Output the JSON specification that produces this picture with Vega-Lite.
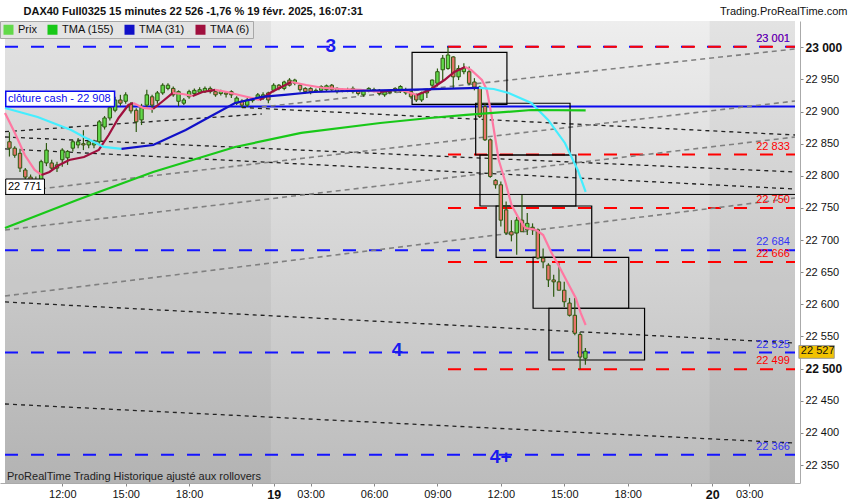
{
  "$schema": "https://vega.github.io/schema/vega-lite/v6.json",
  "width": 800,
  "height": 462,
  "autosize": "none",
  "padding": {"left": 0, "top": 21, "right": 50, "bottom": 17},
  "background": "#ffffff",
  "config": {
    "view": {"stroke": null},
    "font": "Liberation Sans",
    "axis": {"labelOverlap": false, "labelFlush": false, "labelBound": false, "labelSeparation": 0},
    "locale": {"number": {"decimal": ",", "thousands": " ", "grouping": [3], "currency": ["", " €"]}}
  },
  "datasets": {
    "candles": [
      {"i":0,"o":22853,"h":22868,"l":22830,"c":22843,"k":"Prix baisse"},
      {"i":1,"o":22843,"h":22846,"l":22828,"c":22832,"k":"Prix baisse"},
      {"i":2,"o":22835,"h":22842,"l":22806,"c":22812,"k":"Prix baisse"},
      {"i":3,"o":22809,"h":22812,"l":22792,"c":22798,"k":"Prix baisse"},
      {"i":4,"o":22798,"h":22802,"l":22778,"c":22787,"k":"Prix baisse"},
      {"i":5,"o":22787,"h":22799,"l":22771,"c":22784,"k":"Prix baisse"},
      {"i":6,"o":22790,"h":22825,"l":22786,"c":22822,"k":"Prix"},
      {"i":7,"o":22820,"h":22851,"l":22815,"c":22840,"k":"Prix"},
      {"i":8,"o":22820,"h":22825,"l":22808,"c":22812,"k":"Prix baisse"},
      {"i":9,"o":22817,"h":22822,"l":22806,"c":22812,"k":"Prix baisse"},
      {"i":10,"o":22825,"h":22843,"l":22814,"c":22840,"k":"Prix"},
      {"i":11,"o":22828,"h":22840,"l":22817,"c":22838,"k":"Prix"},
      {"i":12,"o":22843,"h":22856,"l":22838,"c":22853,"k":"Prix"},
      {"i":13,"o":22848,"h":22859,"l":22843,"c":22853,"k":"Prix"},
      {"i":14,"o":22850,"h":22871,"l":22840,"c":22848,"k":"Prix baisse"},
      {"i":15,"o":22848,"h":22858,"l":22843,"c":22853,"k":"Prix"},
      {"i":16,"o":22848,"h":22856,"l":22843,"c":22851,"k":"Prix"},
      {"i":17,"o":22853,"h":22887,"l":22850,"c":22884,"k":"Prix"},
      {"i":18,"o":22876,"h":22893,"l":22872,"c":22890,"k":"Prix"},
      {"i":19,"o":22890,"h":22909,"l":22886,"c":22906,"k":"Prix"},
      {"i":20,"o":22902,"h":22923,"l":22899,"c":22918,"k":"Prix"},
      {"i":21,"o":22918,"h":22926,"l":22909,"c":22913,"k":"Prix baisse"},
      {"i":22,"o":22916,"h":22930,"l":22912,"c":22926,"k":"Prix"},
      {"i":23,"o":22911,"h":22915,"l":22897,"c":22901,"k":"Prix baisse"},
      {"i":24,"o":22902,"h":22905,"l":22868,"c":22884,"k":"Prix baisse"},
      {"i":25,"o":22887,"h":22912,"l":22879,"c":22906,"k":"Prix"},
      {"i":26,"o":22910,"h":22934,"l":22906,"c":22926,"k":"Prix"},
      {"i":27,"o":22923,"h":22926,"l":22898,"c":22910,"k":"Prix baisse"},
      {"i":28,"o":22917,"h":22932,"l":22912,"c":22929,"k":"Prix"},
      {"i":29,"o":22929,"h":22944,"l":22926,"c":22941,"k":"Prix"},
      {"i":30,"o":22936,"h":22944,"l":22933,"c":22941,"k":"Prix"},
      {"i":31,"o":22936,"h":22939,"l":22923,"c":22926,"k":"Prix baisse"},
      {"i":32,"o":22916,"h":22933,"l":22908,"c":22931,"k":"Prix"},
      {"i":33,"o":22913,"h":22921,"l":22910,"c":22918,"k":"Prix"},
      {"i":34,"o":22923,"h":22934,"l":22920,"c":22931,"k":"Prix"},
      {"i":35,"o":22928,"h":22936,"l":22925,"c":22933,"k":"Prix"},
      {"i":36,"o":22930,"h":22938,"l":22928,"c":22934,"k":"Prix"},
      {"i":37,"o":22931,"h":22939,"l":22929,"c":22936,"k":"Prix"},
      {"i":38,"o":22936,"h":22939,"l":22928,"c":22931,"k":"Prix baisse"},
      {"i":39,"o":22931,"h":22933,"l":22923,"c":22926,"k":"Prix baisse"},
      {"i":40,"o":22928,"h":22934,"l":22925,"c":22931,"k":"Prix"},
      {"i":41,"o":22929,"h":22932,"l":22922,"c":22927,"k":"Prix baisse"},
      {"i":42,"o":22931,"h":22933,"l":22921,"c":22926,"k":"Prix baisse"},
      {"i":43,"o":22913,"h":22924,"l":22910,"c":22921,"k":"Prix"},
      {"i":44,"o":22916,"h":22919,"l":22906,"c":22910,"k":"Prix baisse"},
      {"i":45,"o":22910,"h":22921,"l":22907,"c":22918,"k":"Prix"},
      {"i":46,"o":22917,"h":22922,"l":22914,"c":22920,"k":"Prix"},
      {"i":47,"o":22921,"h":22929,"l":22918,"c":22926,"k":"Prix"},
      {"i":48,"o":22921,"h":22930,"l":22918,"c":22926,"k":"Prix"},
      {"i":49,"o":22929,"h":22931,"l":22913,"c":22918,"k":"Prix baisse"},
      {"i":50,"o":22933,"h":22944,"l":22930,"c":22941,"k":"Prix"},
      {"i":51,"o":22941,"h":22943,"l":22933,"c":22936,"k":"Prix baisse"},
      {"i":52,"o":22936,"h":22948,"l":22933,"c":22946,"k":"Prix"},
      {"i":53,"o":22949,"h":22952,"l":22939,"c":22941,"k":"Prix baisse"},
      {"i":54,"o":22944,"h":22951,"l":22941,"c":22949,"k":"Prix"},
      {"i":55,"o":22941,"h":22943,"l":22931,"c":22934,"k":"Prix baisse"},
      {"i":56,"o":22936,"h":22938,"l":22928,"c":22931,"k":"Prix baisse"},
      {"i":57,"o":22936,"h":22938,"l":22927,"c":22931,"k":"Prix baisse"},
      {"i":58,"o":22932,"h":22936,"l":22929,"c":22933,"k":"Prix"},
      {"i":59,"o":22933,"h":22941,"l":22930,"c":22939,"k":"Prix"},
      {"i":60,"o":22934,"h":22942,"l":22931,"c":22940,"k":"Prix"},
      {"i":61,"o":22941,"h":22943,"l":22931,"c":22934,"k":"Prix baisse"},
      {"i":62,"o":22931,"h":22938,"l":22928,"c":22936,"k":"Prix"},
      {"i":63,"o":22933,"h":22936,"l":22930,"c":22934,"k":"Prix"},
      {"i":64,"o":22934,"h":22937,"l":22930,"c":22933,"k":"Prix baisse"},
      {"i":65,"o":22931,"h":22939,"l":22928,"c":22936,"k":"Prix"},
      {"i":66,"o":22932,"h":22934,"l":22925,"c":22928,"k":"Prix baisse"},
      {"i":67,"o":22926,"h":22934,"l":22923,"c":22932,"k":"Prix"},
      {"i":68,"o":22932,"h":22938,"l":22930,"c":22936,"k":"Prix"},
      {"i":69,"o":22934,"h":22937,"l":22930,"c":22933,"k":"Prix baisse"},
      {"i":70,"o":22933,"h":22935,"l":22925,"c":22928,"k":"Prix baisse"},
      {"i":71,"o":22926,"h":22933,"l":22923,"c":22931,"k":"Prix"},
      {"i":72,"o":22931,"h":22934,"l":22927,"c":22930,"k":"Prix baisse"},
      {"i":73,"o":22936,"h":22938,"l":22929,"c":22932,"k":"Prix baisse"},
      {"i":74,"o":22932,"h":22941,"l":22929,"c":22939,"k":"Prix"},
      {"i":75,"o":22929,"h":22937,"l":22926,"c":22934,"k":"Prix"},
      {"i":76,"o":22931,"h":22933,"l":22920,"c":22923,"k":"Prix baisse"},
      {"i":77,"o":22926,"h":22928,"l":22915,"c":22918,"k":"Prix baisse"},
      {"i":78,"o":22918,"h":22931,"l":22915,"c":22929,"k":"Prix"},
      {"i":79,"o":22929,"h":22935,"l":22921,"c":22934,"k":"Prix"},
      {"i":80,"o":22941,"h":22950,"l":22936,"c":22949,"k":"Prix"},
      {"i":81,"o":22944,"h":22967,"l":22939,"c":22962,"k":"Prix"},
      {"i":82,"o":22965,"h":22988,"l":22949,"c":22983,"k":"Prix"},
      {"i":83,"o":22967,"h":23001,"l":22965,"c":22988,"k":"Prix"},
      {"i":84,"o":22985,"h":22986,"l":22936,"c":22954,"k":"Prix baisse"},
      {"i":85,"o":22954,"h":22972,"l":22949,"c":22967,"k":"Prix"},
      {"i":86,"o":22962,"h":22975,"l":22958,"c":22968,"k":"Prix"},
      {"i":87,"o":22962,"h":22970,"l":22941,"c":22944,"k":"Prix baisse"},
      {"i":88,"o":22946,"h":22952,"l":22933,"c":22938,"k":"Prix baisse"},
      {"i":89,"o":22938,"h":22940,"l":22890,"c":22892,"k":"Prix baisse"},
      {"i":90,"o":22908,"h":22913,"l":22854,"c":22856,"k":"Prix baisse"},
      {"i":91,"o":22856,"h":22858,"l":22797,"c":22799,"k":"Prix baisse"},
      {"i":92,"o":22793,"h":22795,"l":22780,"c":22786,"k":"Prix baisse"},
      {"i":93,"o":22786,"h":22791,"l":22721,"c":22731,"k":"Prix baisse"},
      {"i":94,"o":22747,"h":22760,"l":22708,"c":22711,"k":"Prix baisse"},
      {"i":95,"o":22713,"h":22731,"l":22698,"c":22708,"k":"Prix baisse"},
      {"i":96,"o":22711,"h":22736,"l":22677,"c":22731,"k":"Prix"},
      {"i":97,"o":22731,"h":22770,"l":22713,"c":22713,"k":"Prix baisse"},
      {"i":98,"o":22716,"h":22742,"l":22708,"c":22726,"k":"Prix"},
      {"i":99,"o":22720,"h":22726,"l":22708,"c":22716,"k":"Prix baisse"},
      {"i":100,"o":22716,"h":22718,"l":22670,"c":22672,"k":"Prix baisse"},
      {"i":101,"o":22672,"h":22687,"l":22656,"c":22666,"k":"Prix baisse"},
      {"i":102,"o":22661,"h":22664,"l":22627,"c":22638,"k":"Prix baisse"},
      {"i":103,"o":22638,"h":22646,"l":22612,"c":22635,"k":"Prix baisse"},
      {"i":104,"o":22635,"h":22664,"l":22622,"c":22622,"k":"Prix baisse"},
      {"i":105,"o":22622,"h":22635,"l":22596,"c":22604,"k":"Prix baisse"},
      {"i":106,"o":22602,"h":22610,"l":22581,"c":22583,"k":"Prix baisse"},
      {"i":107,"o":22583,"h":22610,"l":22552,"c":22555,"k":"Prix baisse"},
      {"i":108,"o":22553,"h":22557,"l":22499,"c":22518,"k":"Prix baisse"},
      {"i":109,"o":22516,"h":22532,"l":22506,"c":22527,"k":"Prix"}
    ],
    "tma": [
      {"s":1,"k":"TMA (6) baisse","i":-0.84,"v":22897.8},
      {"s":1,"k":"TMA (6) baisse","i":1.03,"v":22866.7},
      {"s":1,"k":"TMA (6) baisse","i":2.9,"v":22832.4},
      {"s":1,"k":"TMA (6) baisse","i":4.77,"v":22809.1},
      {"s":1,"k":"TMA (6) baisse","i":6.07,"v":22801.3},
      {"s":2,"k":"TMA (6)","i":6.07,"v":22801.3},
      {"s":2,"k":"TMA (6)","i":7.57,"v":22806.0},
      {"s":2,"k":"TMA (6)","i":9.44,"v":22816.9},
      {"s":2,"k":"TMA (6)","i":11.31,"v":22824.6},
      {"s":2,"k":"TMA (6)","i":14.11,"v":22829.3},
      {"s":2,"k":"TMA (6)","i":16.91,"v":22840.2},
      {"s":2,"k":"TMA (6)","i":18.78,"v":22863.5},
      {"s":2,"k":"TMA (6)","i":20.65,"v":22890.0},
      {"s":2,"k":"TMA (6)","i":22.52,"v":22910.2},
      {"s":2,"k":"TMA (6)","i":23.45,"v":22913.3},
      {"s":3,"k":"TMA (6) baisse","i":23.45,"v":22913.3},
      {"s":3,"k":"TMA (6) baisse","i":25.32,"v":22905.6},
      {"s":3,"k":"TMA (6) baisse","i":27.19,"v":22904.0},
      {"s":4,"k":"TMA (6)","i":27.19,"v":22904.0},
      {"s":4,"k":"TMA (6)","i":29.06,"v":22916.4},
      {"s":4,"k":"TMA (6)","i":30.93,"v":22928.9},
      {"s":5,"k":"TMA (6) baisse","i":30.93,"v":22928.9},
      {"s":5,"k":"TMA (6) baisse","i":32.8,"v":22927.3},
      {"s":5,"k":"TMA (6) baisse","i":34.67,"v":22924.2},
      {"s":6,"k":"TMA (6)","i":34.67,"v":22924.2},
      {"s":6,"k":"TMA (6)","i":36.53,"v":22930.4},
      {"s":6,"k":"TMA (6)","i":38.96,"v":22933.6},
      {"s":7,"k":"TMA (6) baisse","i":38.96,"v":22933.6},
      {"s":7,"k":"TMA (6) baisse","i":41.2,"v":22930.4},
      {"s":7,"k":"TMA (6) baisse","i":43.45,"v":22925.8},
      {"s":7,"k":"TMA (6) baisse","i":45.88,"v":22921.1},
      {"s":7,"k":"TMA (6) baisse","i":47.37,"v":22918.0},
      {"s":8,"k":"TMA (6)","i":47.37,"v":22918.0},
      {"s":8,"k":"TMA (6)","i":49.62,"v":22930.4},
      {"s":8,"k":"TMA (6)","i":53.35,"v":22946.0},
      {"s":9,"k":"TMA (6) baisse","i":53.35,"v":22946.0},
      {"s":9,"k":"TMA (6) baisse","i":56.16,"v":22941.3},
      {"s":9,"k":"TMA (6) baisse","i":59.52,"v":22936.7},
      {"s":9,"k":"TMA (6) baisse","i":62.7,"v":22935.1},
      {"s":9,"k":"TMA (6) baisse","i":66.44,"v":22933.6},
      {"s":9,"k":"TMA (6) baisse","i":70.18,"v":22930.4},
      {"s":10,"k":"TMA (6)","i":70.18,"v":22930.4},
      {"s":10,"k":"TMA (6)","i":72.98,"v":22933.6},
      {"s":11,"k":"TMA (6) baisse","i":72.98,"v":22933.6},
      {"s":11,"k":"TMA (6) baisse","i":74.85,"v":22932.0},
      {"s":11,"k":"TMA (6) baisse","i":77.09,"v":22925.8},
      {"s":12,"k":"TMA (6)","i":77.09,"v":22925.8},
      {"s":12,"k":"TMA (6)","i":79.52,"v":22933.6},
      {"s":12,"k":"TMA (6)","i":82.32,"v":22949.1},
      {"s":12,"k":"TMA (6)","i":84.19,"v":22961.6},
      {"s":12,"k":"TMA (6)","i":86.25,"v":22969.3},
      {"s":13,"k":"TMA (6) baisse","i":86.25,"v":22969.3},
      {"s":13,"k":"TMA (6) baisse","i":87.37,"v":22964.7},
      {"s":13,"k":"TMA (6) baisse","i":89.42,"v":22949.1},
      {"s":13,"k":"TMA (6) baisse","i":90.36,"v":22933.6},
      {"s":13,"k":"TMA (6) baisse","i":91.29,"v":22891.5},
      {"s":13,"k":"TMA (6) baisse","i":92.6,"v":22824.6},
      {"s":13,"k":"TMA (6) baisse","i":93.91,"v":22788.9},
      {"s":13,"k":"TMA (6) baisse","i":95.03,"v":22754.6},
      {"s":13,"k":"TMA (6) baisse","i":96.34,"v":22734.4},
      {"s":13,"k":"TMA (6) baisse","i":97.65,"v":22718.8},
      {"s":13,"k":"TMA (6) baisse","i":99.7,"v":22715.7},
      {"s":13,"k":"TMA (6) baisse","i":101.01,"v":22707.9},
      {"s":13,"k":"TMA (6) baisse","i":102.51,"v":22681.5},
      {"s":13,"k":"TMA (6) baisse","i":104.19,"v":22656.6},
      {"s":13,"k":"TMA (6) baisse","i":105.68,"v":22633.3},
      {"s":13,"k":"TMA (6) baisse","i":107.18,"v":22609.9},
      {"s":13,"k":"TMA (6) baisse","i":108.11,"v":22586.6},
      {"s":13,"k":"TMA (6) baisse","i":109.05,"v":22567.9},
      {"s":21,"k":"TMA (31) baisse","i":-0.84,"v":22905.6},
      {"s":21,"k":"TMA (31) baisse","i":5.33,"v":22891.5},
      {"s":21,"k":"TMA (31) baisse","i":11.68,"v":22871.3},
      {"s":21,"k":"TMA (31) baisse","i":14.11,"v":22860.4},
      {"s":21,"k":"TMA (31) baisse","i":17.85,"v":22844.9},
      {"s":21,"k":"TMA (31) baisse","i":21.21,"v":22841.8},
      {"s":22,"k":"TMA (31)","i":21.21,"v":22841.8},
      {"s":22,"k":"TMA (31)","i":27.19,"v":22848.0},
      {"s":22,"k":"TMA (31)","i":33.36,"v":22871.3},
      {"s":22,"k":"TMA (31)","i":37.84,"v":22891.5},
      {"s":22,"k":"TMA (31)","i":42.7,"v":22913.3},
      {"s":22,"k":"TMA (31)","i":47.75,"v":22922.7},
      {"s":22,"k":"TMA (31)","i":52.05,"v":22925.8},
      {"s":22,"k":"TMA (31)","i":57.65,"v":22930.4},
      {"s":22,"k":"TMA (31)","i":64.01,"v":22932.0},
      {"s":22,"k":"TMA (31)","i":70.18,"v":22932.8},
      {"s":22,"k":"TMA (31)","i":74.85,"v":22933.6},
      {"s":22,"k":"TMA (31)","i":88.86,"v":22936.7},
      {"s":23,"k":"TMA (31) baisse","i":88.86,"v":22936.7},
      {"s":23,"k":"TMA (31) baisse","i":91.66,"v":22935.1},
      {"s":23,"k":"TMA (31) baisse","i":94.47,"v":22928.9},
      {"s":23,"k":"TMA (31) baisse","i":98.77,"v":22913.3},
      {"s":23,"k":"TMA (31) baisse","i":101.95,"v":22886.9},
      {"s":23,"k":"TMA (31) baisse","i":105.12,"v":22851.1},
      {"s":23,"k":"TMA (31) baisse","i":107.55,"v":22809.1},
      {"s":23,"k":"TMA (31) baisse","i":109.05,"v":22774.9},
      {"s":31,"k":"TMA (155)","i":-0.84,"v":22718.8},
      {"s":31,"k":"TMA (155)","i":12.8,"v":22762.4},
      {"s":31,"k":"TMA (155)","i":27.19,"v":22806.0},
      {"s":31,"k":"TMA (155)","i":42.7,"v":22844.9},
      {"s":31,"k":"TMA (155)","i":55.22,"v":22866.7},
      {"s":31,"k":"TMA (155)","i":70.18,"v":22882.2},
      {"s":31,"k":"TMA (155)","i":79.52,"v":22890.0},
      {"s":31,"k":"TMA (155)","i":86.43,"v":22894.7},
      {"s":31,"k":"TMA (155)","i":98.77,"v":22902.4},
      {"s":31,"k":"TMA (155)","i":109.05,"v":22901.7}
    ],
    "trendBlack": [
      {"id":"b","i":44.0,"p":22906.3},{"id":"b","i":148.67,"p":22863.5},
      {"id":"c","i":-0.84,"p":22860.4},{"id":"c","i":148.67,"p":22806.0},
      {"id":"d","i":-0.84,"p":22841.8},{"id":"d","i":148.67,"p":22779.5},
      {"id":"g","i":-0.84,"p":22603.7},{"id":"g","i":148.67,"p":22539.9},
      {"id":"i","i":-0.84,"p":22444.9},{"id":"i","i":148.67,"p":22384.2},
      {"id":"j","i":-0.84,"p":22868.7},{"id":"j","i":47.75,"p":22896.2}
    ],
    "trendGray": [
      {"id":"a","i":47.75,"p":22907.1},{"id":"a","i":148.67,"p":22997.4},
      {"id":"e","i":-0.84,"p":22773.3},{"id":"e","i":148.67,"p":22916.4},
      {"id":"h","i":-0.84,"p":22715.7},{"id":"h","i":148.67,"p":22860.4},
      {"id":"f","i":-0.84,"p":22613.0},{"id":"f","i":148.67,"p":22765.5}
    ],
    "boxes": [
      {"a":76.2,"b":94.15,"lo":22911.3,"hi":22992.2},
      {"a":88.24,"b":106.1,"lo":22832.4,"hi":22912.9},
      {"a":89.05,"b":107.2,"lo":22753.0,"hi":22832.4},
      {"a":92.1,"b":110.2,"lo":22673.2,"hi":22753.0},
      {"a":99.1,"b":117.2,"lo":22593.9,"hi":22673.2},
      {"a":102.1,"b":120.2,"lo":22513.4,"hi":22593.9}
    ],
    "blueLevels": [{"p":23001},{"p":22684},{"p":22525},{"p":22366}],
    "redLevels": [{"p":23001},{"p":22833},{"p":22750},{"p":22666},{"p":22499}],
    "days": [{"from":-0.84,"to":49.5},{"from":132.5,"to":148.67}],
    "notes": [{"i":60.8,"p":23002,"t":"3"},{"i":73.35,"p":22529,"t":"4"},{"i":92.97,"p":22362.5,"t":"4+"}]
  },
  "layer": [
    {
      "data": {"values": [{}]},
      "mark": {"type": "rect", "fill": {"gradient": "linear", "x1": 0, "y1": 0, "x2": 0, "y2": 1, "stops": [{"offset": 0, "color": "#eeeeee"}, {"offset": 1, "color": "#bcbcbc"}]}},
      "encoding": {
        "x": {"datum": -0.84, "type": "quantitative",
          "scale": {"domain": [-0.84, 148.67], "nice": false, "zero": false},
          "axis": {
            "orient": "bottom",
            "values": [10, 22, 34, 46, 50, 57, 69, 81, 93, 105, 117, 129, 133, 140],
            "tickCount": 30,
            "labelExpr": "datum.value == 10 ? '12:00' : datum.value == 22 ? '15:00' : datum.value == 34 ? '18:00' : datum.value == 50 ? '19' : datum.value == 57 ? '03:00' : datum.value == 69 ? '06:00' : datum.value == 81 ? '09:00' : datum.value == 93 ? '12:00' : datum.value == 105 ? '15:00' : datum.value == 117 ? '18:00' : datum.value == 133 ? '20' : datum.value == 140 ? '03:00' : ''",
            "labelFontSize": {"condition": {"test": "datum.value == 50 || datum.value == 133", "value": 12.5}, "value": 11},
            "labelFontWeight": {"condition": {"test": "datum.value == 50 || datum.value == 133", "value": "bold"}, "value": "normal"},
            "labelColor": "#111111", "labelPadding": 2, "labelFlush": false, "labelOverlap": false,
            "tickSize": 3, "tickColor": "#888888", "domainColor": "#aaaaaa", "grid": false,
            "title": "DAX40 Full0325 15 minutes 22 526 -1,76 % 19 févr. 2025, 16:07:31",
            "titleX": 23, "titleY": -472, "titleAlign": "left", "titleAnchor": "start", "titleBaseline": "middle",
            "titleFontSize": 11, "titleFontWeight": "bold", "titleColor": "#111111", "titleAngle": 0
          }
        },
        "x2": {"datum": 148.67},
        "y": {"datum": 22322, "type": "quantitative",
          "scale": {"domain": [22322, 23040.9], "nice": false, "zero": false},
          "axis": {
            "orient": "right",
            "values": [22350, 22400, 22450, 22500, 22550, 22600, 22650, 22700, 22750, 22800, 22850, 22900, 22950, 23000],
            "tickCount": 30,
            "labelExpr": "replace(format(datum.value, ',d'), ',', ' ')",
            "labelFontSize": {"condition": {"test": "datum.value == 23000 || datum.value == 22500", "value": 12}, "value": 11},
            "labelFontWeight": {"condition": {"test": "datum.value == 23000 || datum.value == 22500", "value": "bold"}, "value": "normal"},
            "labelColor": "#111111", "labelPadding": 2, "labelFlush": false, "labelOverlap": false,
            "tickSize": 3, "tickColor": "#888888", "domainColor": "#aaaaaa", "grid": false,
            "title": "Trading.ProRealTime.com", "titleAngle": 0, "titleX": 47, "titleY": -10,
            "titleAlign": "right", "titleBaseline": "middle", "titleFontSize": 11, "titleFontWeight": "normal", "titleColor": "#111111"
          }
        },
        "y2": {"datum": 23040.9}
      }
    },
    {
      "data": {"name": "days"},
      "mark": {"type": "rect", "fill": "#000000", "opacity": 0.045},
      "encoding": {
        "x": {"field": "from", "type": "quantitative"},
        "x2": {"field": "to"},
        "y": {"datum": 22322, "type": "quantitative"},
        "y2": {"datum": 23040.9}
      }
    },
    {
      "data": {"name": "blueLevels"},
      "mark": {"type": "rule", "color": "#1414ff", "strokeWidth": 2, "strokeDash": [13, 13]},
      "encoding": {
        "x": {"datum": -0.84, "type": "quantitative"},
        "x2": {"datum": 148.67},
        "y": {"field": "p", "type": "quantitative"}
      }
    },
    {
      "data": {"name": "redLevels"},
      "mark": {"type": "rule", "color": "#ff0000", "strokeWidth": 2, "strokeDash": [13, 13]},
      "encoding": {
        "x": {"datum": 83, "type": "quantitative"},
        "x2": {"datum": 148.67},
        "y": {"field": "p", "type": "quantitative"}
      }
    },
    {
      "data": {"values": [{"p": 22908}]},
      "mark": {"type": "rule", "color": "#0a0aee", "strokeWidth": 2},
      "encoding": {
        "x": {"datum": -0.84, "type": "quantitative"},
        "x2": {"datum": 148.67},
        "y": {"field": "p", "type": "quantitative"}
      }
    },
    {
      "data": {"values": [{"p": 22771}]},
      "mark": {"type": "rule", "color": "#000000", "strokeWidth": 1},
      "encoding": {
        "x": {"datum": -0.84, "type": "quantitative"},
        "x2": {"datum": 148.67},
        "y": {"field": "p", "type": "quantitative"}
      }
    },
    {
      "data": {"name": "trendBlack"},
      "mark": {"type": "line", "color": "#222222", "strokeWidth": 1.3, "strokeDash": [4, 4], "clip": true},
      "encoding": {
        "x": {"field": "i", "type": "quantitative"},
        "y": {"field": "p", "type": "quantitative"},
        "detail": {"field": "id"}
      }
    },
    {
      "data": {"name": "trendGray"},
      "mark": {"type": "line", "color": "#808080", "strokeWidth": 1.6, "strokeDash": [5, 4], "clip": true},
      "encoding": {
        "x": {"field": "i", "type": "quantitative"},
        "y": {"field": "p", "type": "quantitative"},
        "detail": {"field": "id"}
      }
    },
    {
      "data": {"name": "boxes"},
      "mark": {"type": "rect", "fill": null, "fillOpacity": 0, "stroke": "#000000", "strokeWidth": 1.2},
      "encoding": {
        "x": {"field": "a", "type": "quantitative"},
        "x2": {"field": "b"},
        "y": {"field": "lo", "type": "quantitative"},
        "y2": {"field": "hi"}
      }
    },
    {
      "data": {"name": "candles"},
      "mark": {"type": "rule", "color": "#2d5a10", "strokeWidth": 1.2},
      "encoding": {
        "x": {"field": "i", "type": "quantitative"},
        "y": {"field": "l", "type": "quantitative"},
        "y2": {"field": "h"}
      }
    },
    {
      "data": {"name": "candles"},
      "mark": {"type": "bar", "size": 3.4, "stroke": "#2d5a10", "strokeWidth": 1},
      "encoding": {
        "x": {"field": "i", "type": "quantitative"},
        "y": {"field": "o", "type": "quantitative"},
        "y2": {"field": "c"},
        "color": {"field": "k", "type": "nominal",
          "scale": {"domain": ["Prix", "Prix baisse", "TMA (155)", "TMA (31)", "TMA (31) baisse", "TMA (6)", "TMA (6) baisse"],
                    "range": ["#62d94a", "#e8746a", "#18c818", "#1010c8", "#44eeff", "#a0103e", "#ff78a2"]},
          "legend": {"values": ["Prix", "TMA (155)", "TMA (31)", "TMA (6)"], "orient": "top-left", "offset": 0,
            "direction": "horizontal", "columns": 4, "title": null, "symbolType": "square", "symbolSize": 100,
            "symbolStrokeWidth": 0, "labelFontSize": 11, "labelColor": "#111111", "fillColor": "#e4e4e4",
            "strokeColor": "#a8a8a8", "padding": 3, "columnPadding": 10, "labelOffset": 4}
        }
      }
    },
    {
      "data": {"name": "tma"},
      "mark": {"type": "line", "strokeWidth": 2.2, "clip": true},
      "encoding": {
        "x": {"field": "i", "type": "quantitative"},
        "y": {"field": "v", "type": "quantitative"},
        "detail": {"field": "s"},
        "color": {"field": "k", "type": "nominal",
          "scale": {"domain": ["Prix", "Prix baisse", "TMA (155)", "TMA (31)", "TMA (31) baisse", "TMA (6)", "TMA (6) baisse"],
                    "range": ["#62d94a", "#e8746a", "#18c818", "#1010c8", "#44eeff", "#a0103e", "#ff78a2"]},
          "legend": null}
      }
    },
    {
      "data": {"name": "redLevels"},
      "mark": {"type": "text", "align": "right", "baseline": "bottom", "dy": -3, "fontSize": 11, "color": "#ff0000"},
      "encoding": {
        "x": {"datum": 147.7, "type": "quantitative"},
        "y": {"field": "p", "type": "quantitative"},
        "text": {"field": "p", "type": "quantitative", "format": ",d"}
      }
    },
    {
      "data": {"name": "blueLevels"},
      "mark": {"type": "text", "align": "right", "baseline": "bottom", "dy": -3, "fontSize": 11, "color": "#1414ff", "opacity": 0.85},
      "encoding": {
        "x": {"datum": 147.7, "type": "quantitative"},
        "y": {"field": "p", "type": "quantitative"},
        "text": {"field": "p", "type": "quantitative", "format": ",d"}
      }
    },
    {
      "data": {"values": [{}]},
      "mark": {"type": "rect", "fill": "#ffffff", "stroke": "#0a0aee", "strokeWidth": 1.5},
      "encoding": {
        "x": {"datum": -0.7, "type": "quantitative"},
        "x2": {"datum": 19.9},
        "y": {"datum": 22908, "type": "quantitative"},
        "y2": {"datum": 22931.6}
      }
    },
    {
      "data": {"values": [{"t": "clôture cash -  22 908"}]},
      "mark": {"type": "text", "align": "left", "baseline": "middle", "dx": 3, "fontSize": 11, "color": "#0a0aee"},
      "encoding": {
        "x": {"datum": -0.84, "type": "quantitative"},
        "y": {"datum": 22920, "type": "quantitative"},
        "text": {"field": "t"}
      }
    },
    {
      "data": {"values": [{}]},
      "mark": {"type": "rect", "fill": "#ffffff", "stroke": "#000000", "strokeWidth": 1},
      "encoding": {
        "x": {"datum": -0.7, "type": "quantitative"},
        "x2": {"datum": 6.63},
        "y": {"datum": 22771, "type": "quantitative"},
        "y2": {"datum": 22795}
      }
    },
    {
      "data": {"values": [{"t": "22 771"}]},
      "mark": {"type": "text", "align": "left", "baseline": "middle", "dx": 3, "fontSize": 11, "color": "#000000"},
      "encoding": {
        "x": {"datum": -0.84, "type": "quantitative"},
        "y": {"datum": 22783, "type": "quantitative"},
        "text": {"field": "t"}
      }
    },
    {
      "data": {"name": "notes"},
      "mark": {"type": "text", "align": "center", "baseline": "middle", "fontSize": 19, "fontWeight": "bold", "color": "#1a1aee"},
      "encoding": {
        "x": {"field": "i", "type": "quantitative"},
        "y": {"field": "p", "type": "quantitative"},
        "text": {"field": "t"}
      }
    },
    {
      "data": {"values": [{"t": "ProRealTime Trading  Historique ajusté aux rollovers"}]},
      "mark": {"type": "text", "align": "left", "baseline": "middle", "dx": 2, "fontSize": 11, "color": "#222222"},
      "encoding": {
        "x": {"datum": -0.84, "type": "quantitative"},
        "y": {"datum": 22331.4, "type": "quantitative"},
        "text": {"field": "t"}
      }
    },
    {
      "data": {"values": [{}]},
      "mark": {"type": "rect", "fill": "#f2c200", "stroke": "#9a9a9a", "strokeWidth": 1, "clip": false},
      "encoding": {
        "x": {"datum": 149.4, "type": "quantitative"},
        "x2": {"datum": 156.1},
        "y": {"datum": 22516, "type": "quantitative"},
        "y2": {"datum": 22536}
      }
    },
    {
      "data": {"values": [{"v": 22527}]},
      "mark": {"type": "text", "align": "left", "baseline": "middle", "dx": 2, "fontSize": 11, "color": "#111111"},
      "encoding": {
        "x": {"datum": 149.4, "type": "quantitative"},
        "y": {"field": "v", "type": "quantitative"},
        "text": {"field": "v", "type": "quantitative", "format": ",d"}
      }
    }
  ]
}
